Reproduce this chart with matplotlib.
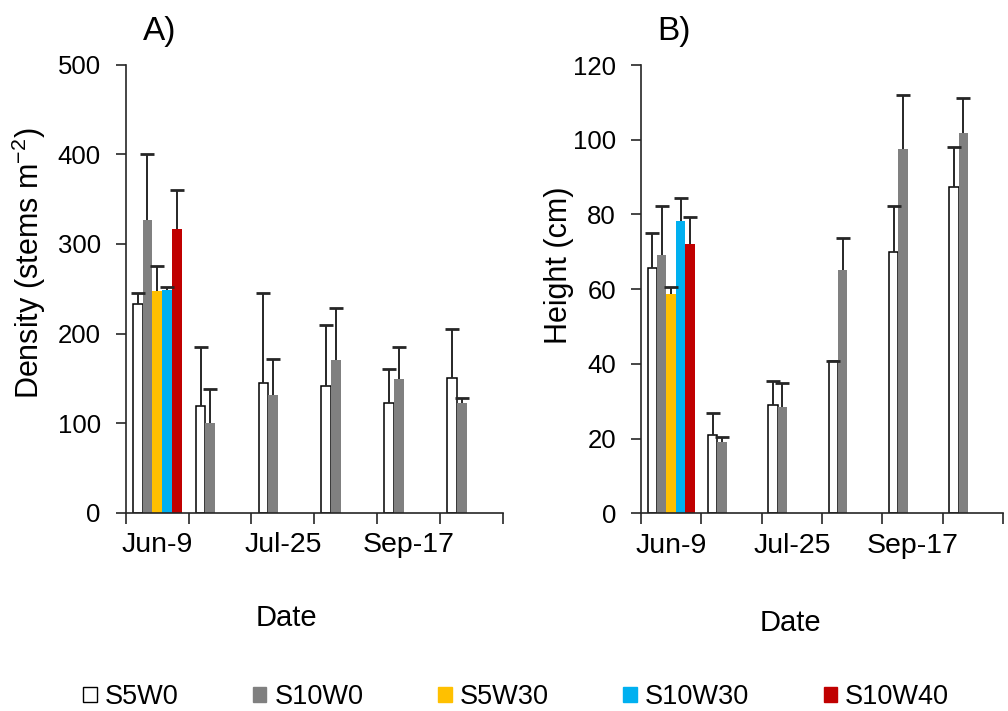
import matplotlib
matplotlib.use("Agg")
import matplotlib.pyplot as plt
import numpy as np
from matplotlib.patches import Patch

plt.rcParams["font.family"] = ["Liberation Sans", "DejaVu Sans"]

# six sampling categories, only every other one is labelled
dates = ["Jun-9", "", "Jul-25", "", "Sep-17", ""]
series = ["S5W0", "S10W0", "S5W30", "S10W30", "S10W40"]
colors = ["white", "#808080", "#FFC000", "#00B0F0", "#C00000"]

nan = np.nan
# A) density (stems m-2), mean and upper error
density = {
    "S5W0": [233, 119, 145, 141, 123, 150],
    "S10W0": [327, 100, 131, 171, 149, 122],
    "S5W30": [247, nan, nan, nan, nan, nan],
    "S10W30": [249, nan, nan, nan, nan, nan],
    "S10W40": [317, nan, nan, nan, nan, nan],
}
density_err = {
    "S5W0": [12, 66, 100, 69, 37, 55],
    "S10W0": [73, 38, 41, 57, 36, 6],
    "S5W30": [28, nan, nan, nan, nan, nan],
    "S10W30": [3, nan, nan, nan, nan, nan],
    "S10W40": [43, nan, nan, nan, nan, nan],
}
# B) height (cm)
height = {
    "S5W0": [65.8, 21.0, 29.0, 40.8, 70.0, 87.4],
    "S10W0": [69.1, 19.0, 28.5, 65.1, 97.4, 101.9],
    "S5W30": [58.6, nan, nan, nan, nan, nan],
    "S10W30": [78.2, nan, nan, nan, nan, nan],
    "S10W40": [72.0, nan, nan, nan, nan, nan],
}
height_err = {
    "S5W0": [9.3, 5.8, 6.4, 0.0, 12.3, 10.7],
    "S10W0": [13.2, 1.5, 6.5, 8.7, 14.6, 9.3],
    "S5W30": [2.1, nan, nan, nan, nan, nan],
    "S10W30": [6.1, nan, nan, nan, nan, nan],
    "S10W40": [7.2, nan, nan, nan, nan, nan],
}

INK = "#262626"


def draw(ax, values, errors, ymax, ystep, title):
    x = np.arange(len(dates))
    width = 0.155
    for i, (name, color) in enumerate(zip(series, colors)):
        vals = np.array(values[name], dtype=float)
        err = np.array(errors[name], dtype=float)
        pos = x + (i - 2) * width
        edge = "black" if color == "white" else color
        ax.bar(pos, vals, width=width, color=color, edgecolor=edge,
               linewidth=1.1 if color == "white" else 0, zorder=2)
        # plus-only error bars, cap drawn at the top end only
        ax.errorbar(pos, vals, yerr=[np.zeros_like(err), err], fmt="none",
                    ecolor=INK, elinewidth=1.4, capsize=0, zorder=3)
        ax.plot(pos, vals + err, ls="none", marker="_", markersize=9.5,
                markeredgewidth=2.0, color=INK, zorder=3)
    ax.set_xlim(-0.5, len(dates) - 0.5)
    ax.set_ylim(0, ymax)
    ax.set_yticks(np.arange(0, ymax + 1, ystep))
    ax.set_xticks(np.arange(-0.5, len(dates)), [""] * (len(dates) + 1))
    ax.set_xticks(x, dates, minor=True)
    ax.tick_params(axis="x", which="major", direction="out", length=8,
                   width=1.2, color=INK)
    ax.tick_params(axis="x", which="minor", length=0, pad=14, labelsize=20.5)
    ax.tick_params(axis="y", direction="out", length=7, width=1.2, color=INK,
                   labelsize=18.5, pad=11)
    for side in ("top", "right"):
        ax.spines[side].set_visible(False)
    for side in ("left", "bottom"):
        ax.spines[side].set_color(INK)
        ax.spines[side].set_linewidth(1.2)
    ax.set_title(title, fontsize=24, loc="left", x=0.045, pad=18)


fig = plt.figure(figsize=(10.08, 7.11), dpi=100)
ax_a = fig.add_axes([0.1247, 0.2789, 0.3743, 0.630])
ax_b = fig.add_axes([0.6359, 0.2780, 0.3591, 0.6305])

draw(ax_a, density, density_err, 500, 100, "A)")
draw(ax_b, height, height_err, 120, 20, "B)")

fig.text(29 / 1008, 1 - 263 / 711, r"Density (stems m$^{\mathregular{-2}}$)",
         rotation=90, ha="center", va="center", fontsize=22)
fig.text(559 / 1008, 1 - 265 / 711, "Height (cm)",
         rotation=90, ha="center", va="center", fontsize=22)
fig.text(286 / 1008, 1 - 618 / 711, "Date", ha="center", va="center",
         fontsize=21)
fig.text(790 / 1008, 1 - 623 / 711, "Date", ha="center", va="center",
         fontsize=21)

handles = [Patch(facecolor=c, edgecolor="black" if c == "white" else c,
                 linewidth=1.0) for c in colors]
fig.legend(handles, series, loc="center left",
           bbox_to_anchor=(83 / 1008, 1 - 697 / 711), ncol=5, frameon=False,
           fontsize=19.5, handlelength=0.5, handleheight=0.5,
           handletextpad=0.3, columnspacing=2.75, borderpad=0,
           borderaxespad=0)

fig.savefig("out.png", dpi=100)
